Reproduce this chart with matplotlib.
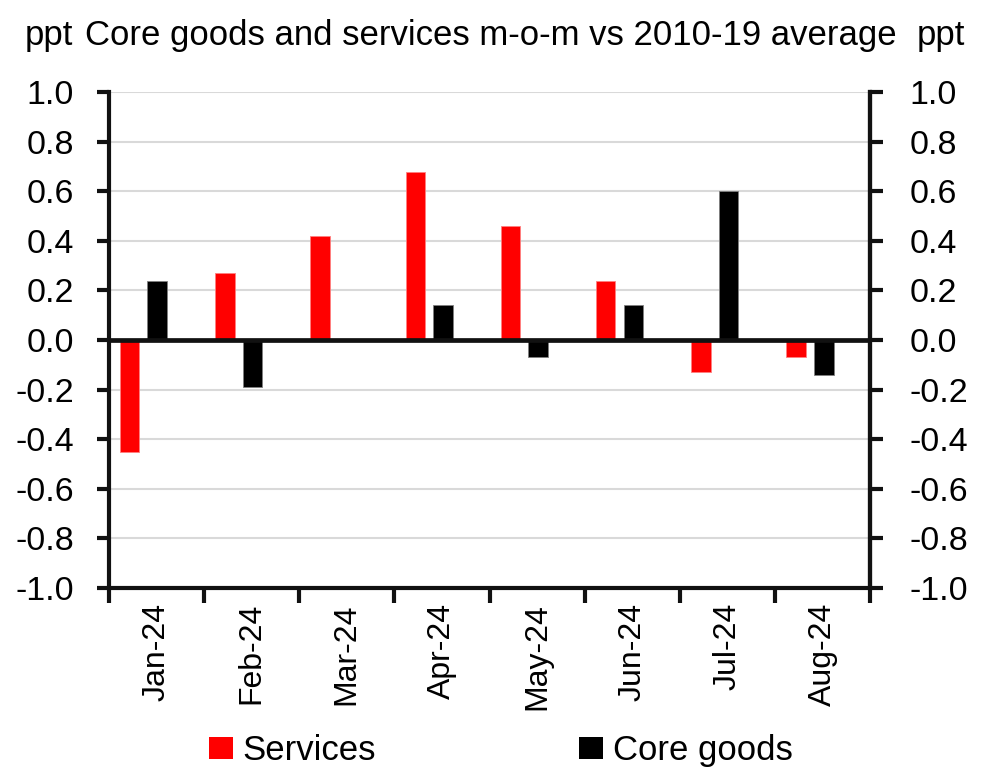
import matplotlib
matplotlib.use("Agg")
import matplotlib.pyplot as plt
from matplotlib.patches import Patch
import numpy as np

# Data
months = ["Jan-24", "Feb-24", "Mar-24", "Apr-24", "May-24", "Jun-24", "Jul-24", "Aug-24"]
services = [-0.45, 0.27, 0.42, 0.68, 0.46, 0.24, -0.13, -0.07]
core_goods = [0.24, -0.19, 0.0, 0.14, -0.07, 0.14, 0.60, -0.14]
y_ticks = [-1.0, -0.8, -0.6, -0.4, -0.2, 0.0, 0.2, 0.4, 0.6, 0.8, 1.0]

plt.rcParams["font.family"] = ["Liberation Sans", "DejaVu Sans"]
FS_YTICK = 24.5
FS_XTICK = 23
FS_TITLE = 25
FS_LEG = 25

fig = plt.figure(figsize=(9.88, 7.79), dpi=100)
ax = fig.add_axes([0.110, 0.2455, 0.771, 0.636])

x = np.arange(len(months))
bw = 0.205
ax.bar(x - 0.28, services, width=bw, color="#ff0000", edgecolor="#ff8080",
       linewidth=0.6, zorder=2, label="Services")
ax.bar(x + 0.01, core_goods, width=bw, color="#000000", edgecolor="#808080",
       linewidth=0.6, zorder=2, label="Core goods")

ax.axhline(0, color="#111111", linewidth=3.4, zorder=3)

ax.set_xlim(-0.5, len(months) - 0.5)
ax.set_ylim(-1.0, 1.0)
ax.set_yticks(y_ticks)
ax.set_yticklabels([f"{v:.1f}" for v in y_ticks], fontsize=FS_YTICK)
ax.yaxis.grid(True, color="#d9d9d9", linewidth=1.5, zorder=0)
ax.set_axisbelow(True)

ax.set_xticks(np.arange(-0.5, len(months)), minor=False)
ax.set_xticklabels([])
ax.set_xticks(x, minor=True)
ax.set_xticklabels(months, minor=True, rotation=90, fontsize=FS_XTICK)
ax.tick_params(axis="x", which="major", direction="out", length=11, width=3, color="#111111")
ax.tick_params(axis="x", which="minor", length=0, pad=11)
ax.tick_params(axis="y", direction="out", length=9, width=3, color="#111111", pad=16)

for side in ["left", "right", "bottom"]:
    ax.spines[side].set_linewidth(3)
    ax.spines[side].set_color("#111111")
ax.spines["top"].set_visible(False)

# Mirror axis on the right
ax2 = ax.twinx()
ax2.set_ylim(ax.get_ylim())
ax2.set_yticks(y_ticks)
ax2.set_yticklabels([f"{v:.1f}" for v in y_ticks], fontsize=FS_YTICK)
ax2.tick_params(axis="y", direction="out", length=9, width=3, color="#111111", pad=19)
for side in ["left", "right", "bottom", "top"]:
    ax2.spines[side].set_visible(False)
ax2.spines["right"].set_visible(True)
ax2.spines["right"].set_linewidth(3)
ax2.spines["right"].set_color("#111111")

# Header
fig.text(0.025, 0.955, "ppt", fontsize=FS_TITLE, ha="left", va="center")
fig.text(0.497, 0.955, "Core goods and services m-o-m vs 2010-19 average",
         fontsize=FS_TITLE, ha="center", va="center")
fig.text(0.977, 0.955, "ppt", fontsize=FS_TITLE, ha="right", va="center")

handles = [Patch(facecolor="#ff0000", edgecolor="none"),
           Patch(facecolor="#000000", edgecolor="none")]
fig.legend(handles, ["Services", "Core goods"], loc="center", bbox_to_anchor=(0.507, 0.036),
           ncol=2, frameon=False, fontsize=FS_LEG, handlelength=0.69, handleheight=0.6,
           handletextpad=0.29, columnspacing=5.85, borderpad=0, borderaxespad=0)

fig.savefig("out.png", dpi=100)
